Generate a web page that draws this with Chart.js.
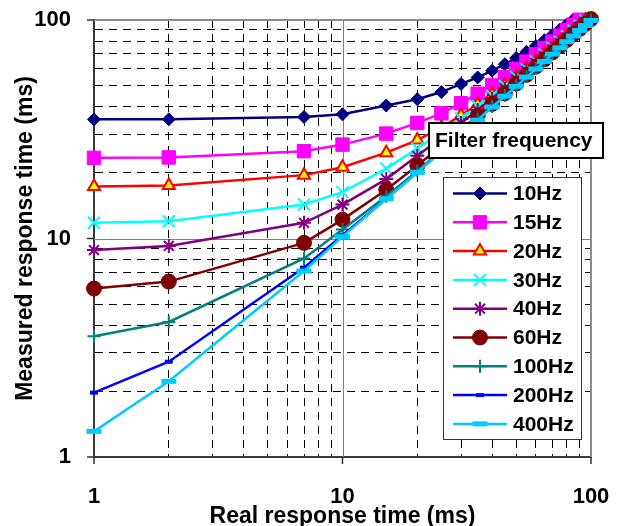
<!DOCTYPE html>
<html>
<head>
<meta charset="utf-8">
<script src="https://cdn.jsdelivr.net/npm/chart.js@4"></script>
<style>
  html, body { margin: 0; padding: 0; background: #fff; }
</style>
</head>
<body>
<canvas id="chart" width="619" height="526"></canvas>
<script>
// Données : temps de réponse réel (ms), commun à toutes les séries
const realTime = [1, 2, 7, 10, 15, 20, 25, 30, 35, 40, 45, 50, 55, 60, 65, 70, 75, 80, 85, 90, 95, 100];

// Temps de réponse mesuré (ms) pour chaque fréquence de filtre
const measured10Hz = [35.1, 35.1, 36.0, 37.0, 40.6, 43.4, 46.8, 51.0, 54.6, 58.6, 62.8, 67.0, 71.5, 76.0, 80.8, 85.6, 90.5, 95.5, 100.5];
const measured15Hz = [23.4, 23.5, 25.1, 26.9, 30.2, 33.8, 37.4, 41.6, 46.0, 50.2, 54.7, 59.5, 64.5, 69.6, 74.5, 79.6, 84.8, 90.0, 95.1, 100.2];
const measured20Hz = [17.3, 17.5, 19.5, 21.2, 24.7, 28.2, 32.2, 36.6, 41.0, 45.6, 50.3, 55.0, 59.8, 64.8, 69.7, 74.6, 79.5, 84.6, 89.6, 94.7, 99.6];
const measured30Hz = [11.8, 12.0, 14.3, 16.3, 20.9, 25.8, 30.6, 35.4, 40.3, 45.0, 49.9, 54.8, 59.6, 64.6, 69.5, 74.4, 79.4, 84.4, 89.3, 94.2, 99.3];
const measured40Hz = [8.85, 9.25, 11.8, 14.3, 18.7, 23.9, 28.9, 33.8, 38.7, 43.7, 48.6, 53.5, 58.4, 63.4, 68.4, 73.3, 78.3, 83.2, 88.2, 93.2, 98.1];
const measured60Hz = [5.9, 6.35, 9.55, 12.2, 16.7, 21.6, 26.5, 31.4, 36.4, 41.3, 46.2, 51.2, 56.1, 61.2, 66.1, 71.1, 76.0, 81.1, 86.0, 91.1, 96.0, 101.0];
const measured100Hz = [3.57, 4.15, 8.1, 11.0, 15.6, 20.4, 25.3, 30.3, 35.2, 40.2, 45.1, 50.2, 55.1, 60.2, 65.1, 70.1, 75.1, 80.0, 85.1, 90.1, 95.0, 100.1];
const measured200Hz = [1.97, 2.73, 7.36, 10.35, 15.2, 20.1, 25.1, 30.1, 35.0, 40.1, 45.0, 50.0, 55.1, 60.0, 65.0, 70.0, 75.1, 80.0, 85.0, 90.0, 95.0, 100.0];
const measured400Hz = [1.31, 2.22, 7.1, 10.2, 15.2, 20.1, 25.0, 29.9, 34.8, 40.0, 44.8, 49.7, 54.8, 59.7, 64.6, 69.8, 74.6, 79.6, 84.5, 89.6, 94.4, 99.6];

const seriesLabels = ['10Hz', '15Hz', '20Hz', '30Hz', '40Hz', '60Hz', '100Hz', '200Hz', '400Hz'];
const seriesValues = [measured10Hz, measured15Hz, measured20Hz, measured30Hz, measured40Hz,
  measured60Hz, measured100Hz, measured200Hz, measured400Hz];

// Graduations des deux axes log (lignes de grille)
const axisTicks = [1, 2, 3, 4, 5, 6, 7, 8, 9, 10, 20, 30, 40, 50, 60, 70, 80, 90, 100];
const labelledTicks = [1, 10, 100];

// Styles
const FONT = '"Liberation Sans", Arial, sans-serif';
const STYLES = [
  { color: '#000080', marker: 'rectRot', radius: 6.5, fill: '#000080', bw: 1 },
  { color: '#FF00FF', marker: 'rect', radius: 9.5, fill: '#FF00FF', bw: 1 },
  { color: '#FF0000', marker: 'triangle', radius: 7, fill: '#FFFF00', bw: 2 },
  { color: '#00FFFF', marker: 'crossRot', radius: 8.5, fill: '#00FFFF', bw: 2 },
  { color: '#800080', marker: 'star', radius: 7, fill: '#800080', bw: 2 },
  { color: '#800000', marker: 'circle', radius: 7.5, fill: '#800000', bw: 1 },
  { color: '#008080', marker: 'cross', radius: 6.5, fill: '#008080', bw: 2 },
  { color: '#0000FF', marker: 'line', radius: 4, fill: '#0000FF', bw: 4 },
  { color: '#00CCFF', marker: 'line', radius: 7.5, fill: '#00CCFF', bw: 5 }
];
const TICK_MARK = 7; // longueur des petites graduations visibles

Chart.defaults.font.family = FONT;
Chart.defaults.color = '#000';

function createDataset(label, values, style, index) {
  return {
    label,
    data: values.map((v, i) => ({ x: realTime[i], y: v })),
    borderColor: style.color,
    backgroundColor: style.fill,
    borderWidth: 2.5,
    tension: 0,
    pointStyle: style.marker,
    pointRadius: style.radius,
    pointHoverRadius: style.radius,
    pointBackgroundColor: style.fill,
    pointBorderColor: style.color,
    pointBorderWidth: style.bw,
    clip: 12,
    order: seriesLabels.length - index // dernière série dessinée au-dessus
  };
}

const isLabelled = (v) => labelledTicks.includes(v);

// tickLength sert d'écart label/axe ; les graduations visibles sont tracées par le plugin
function logAxis(extra, labelGap) {
  return {
    type: 'logarithmic',
    min: 1,
    max: 100,
    afterBuildTicks: (scale) => {
      scale.ticks = axisTicks.map(v => ({ value: v, major: isLabelled(v) }));
    },
    grid: {
      color: (c) => (c.tick && isLabelled(c.tick.value)) ? 'rgba(0,0,0,0)' : '#000',
      lineWidth: 1,
      tickLength: labelGap,
      tickColor: 'rgba(0,0,0,0)'
    },
    border: { display: true, color: '#3a3a3a', width: 2, dash: [8, 6] },
    ticks: {
      autoSkip: false,
      maxRotation: 0,
      padding: 3,
      font: { size: 22, weight: 'bold' },
      color: '#000',
      callback: (value) => isLabelled(value) ? String(value) : ''
    },
    ...extra
  };
}

// Grille principale (10 et 100) en gris continu + graduations principales
const majorGrid = {
  id: 'majorGrid',
  beforeDatasetsDraw(chart) {
    const { ctx, chartArea: a, scales: { x, y } } = chart;
    ctx.save();
    ctx.strokeStyle = '#808080';
    ctx.lineWidth = 1;
    const gx = Math.round(x.getPixelForValue(10)) + 0.5;
    const gy = Math.round(y.getPixelForValue(10)) + 0.5;
    ctx.beginPath();
    ctx.moveTo(gx, a.top); ctx.lineTo(gx, a.bottom);
    ctx.moveTo(a.left, gy); ctx.lineTo(a.right, gy);
    ctx.stroke();
    ctx.strokeStyle = '#8c8c8c';
    ctx.lineWidth = 2;
    ctx.beginPath();
    ctx.moveTo(a.left, a.top); ctx.lineTo(a.right, a.top); ctx.lineTo(a.right, a.bottom);
    ctx.stroke();

    ctx.strokeStyle = '#333';
    ctx.lineWidth = 1.5;
    ctx.beginPath();
    labelledTicks.forEach(v => {
      const px = x.getPixelForValue(v);
      const py = y.getPixelForValue(v);
      ctx.moveTo(px, a.bottom); ctx.lineTo(px, a.bottom + TICK_MARK);
      ctx.moveTo(a.left, py); ctx.lineTo(a.left - TICK_MARK, py);
    });
    ctx.stroke();
    ctx.restore();
  }
};

// Légende et titre "Filter frequency" dans la zone du graphique
const legendBox = {
  id: 'legendBox',
  afterDatasetsDraw(chart) {
    const { ctx } = chart;
    ctx.save();
    ctx.setLineDash([]);
    ctx.fillStyle = '#fff';
    ctx.fillRect(429, 123, 174, 35);
    ctx.strokeStyle = '#000';
    ctx.lineWidth = 2;
    ctx.strokeRect(429, 123, 174, 35);
    ctx.font = `bold 21px ${FONT}`;
    ctx.textBaseline = 'middle';
    ctx.textAlign = 'left';
    ctx.fillStyle = '#000';
    ctx.fillText('Filter frequency', 435, 141);

    ctx.fillStyle = '#fff';
    ctx.fillRect(443.5, 177.5, 138, 262);
    ctx.strokeStyle = '#333';
    ctx.lineWidth = 1;
    ctx.strokeRect(443.5, 177.5, 138, 262);

    chart.data.datasets.forEach((ds, i) => {
      const y = 193.5 + i * 28.8;
      ctx.strokeStyle = ds.borderColor;
      ctx.lineWidth = ds.borderWidth;
      ctx.beginPath();
      ctx.moveTo(453, y); ctx.lineTo(507, y);
      ctx.stroke();
      ctx.fillStyle = ds.pointBackgroundColor;
      ctx.strokeStyle = ds.pointBorderColor;
      ctx.lineWidth = ds.pointBorderWidth;
      Chart.helpers.drawPoint(ctx, {
        pointStyle: ds.pointStyle, radius: ds.pointRadius, rotation: 0, borderWidth: ds.pointBorderWidth
      }, 480, y);
      ctx.fillStyle = '#000';
      ctx.fillText(ds.label, 513, y + 1);
    });
    ctx.restore();
  }
};

new Chart(document.getElementById('chart'), {
  type: 'line',
  data: {
    datasets: seriesLabels.map((label, i) => createDataset(label, seriesValues[i], STYLES[i], i))
  },
  options: {
    responsive: false,
    animation: false,
    layout: { padding: { top: 20, right: 28, left: 0, bottom: 0 } },
    plugins: { legend: { display: false }, tooltip: { enabled: false } },
    scales: {
      x: logAxis({
        position: 'bottom',
        afterFit: (scale) => { scale.height = 69; },
        title: {
          display: true,
          text: 'Real response time (ms)',
          font: { size: 23, weight: 'bold', lineHeight: 0.8 },
          padding: { top: 0, bottom: 0 }
        }
      }, 24),
      y: logAxis({
        position: 'left',
        afterFit: (scale) => { scale.width = 94; },
        title: {
          display: true,
          text: 'Measured response time (ms)',
          font: { size: 23, weight: 'bold', lineHeight: 0.8 },
          padding: { top: 16, bottom: 0 }
        }
      }, 20)
    }
  },
  plugins: [majorGrid, legendBox]
});
</script>
</body>
</html>
